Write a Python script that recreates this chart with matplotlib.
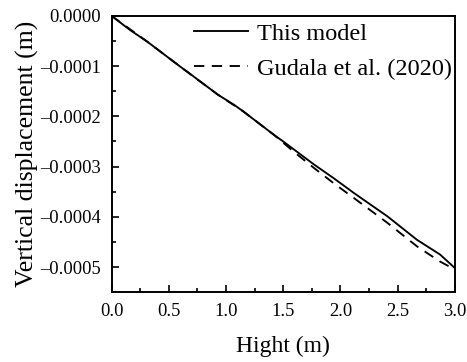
import numpy as np
import matplotlib
matplotlib.use("Agg")
import matplotlib.pyplot as plt
from matplotlib.ticker import MultipleLocator, AutoMinorLocator, FuncFormatter

plt.rcParams['font.family'] = ['Liberation Serif', 'DejaVu Serif']

# 数据
x_model = [0, 0.16, 0.31, 0.60, 0.66, 0.93, 1.07, 1.15, 1.42, 1.50, 1.77, 1.94, 2.12, 2.41, 2.67, 2.87, 3.0]
y_model = [0, -0.0000279, -0.000051, -0.000101, -0.000111, -0.000157, -0.000177, -0.000190,
           -0.000237, -0.000250, -0.000296, -0.000323, -0.000353, -0.000399, -0.000446, -0.000475, -0.000502]

x_gudala = [0, 0.31, 0.60, 0.93, 1.15, 1.42, 1.59, 1.77, 1.94, 2.12, 2.41, 2.67, 2.87, 3.0]
y_gudala = [0, -0.000051, -0.000101, -0.000157, -0.000190, -0.000237, -0.000270, -0.000303,
            -0.000333, -0.000363, -0.000412, -0.000459, -0.000489, -0.000505]

labels = ["This model", "Gudala et al. (2020)"]

fig = plt.figure(figsize=(4.67, 3.62), dpi=100)
ax = fig.add_axes([0.239, 0.193, 0.735, 0.763])

ax.plot(x_model, y_model, color="black", lw=1.35, label=labels[0])
ax.plot(x_gudala, y_gudala, color="black", lw=1.35, dashes=(5.5, 4), label=labels[1])

ax.set_xlim(0, 3.0)
ax.set_ylim(-0.00055, 0)
ax.xaxis.set_major_locator(MultipleLocator(0.5))
ax.xaxis.set_minor_locator(AutoMinorLocator(2))
ax.yaxis.set_major_locator(MultipleLocator(0.0001))
ax.yaxis.set_minor_locator(AutoMinorLocator(2))

def yfmt(v, pos):
    if abs(v) < 1e-12:
        return "0.0000"
    return ("%.4f" % v).replace("-", "\u2013")

ax.yaxis.set_major_formatter(FuncFormatter(yfmt))

ax.tick_params(which="both", direction="in", labelsize=13.3, width=1.2, pad=7.5)
ax.tick_params(which="major", length=5)
ax.tick_params(which="minor", length=3)
for s in ax.spines.values():
    s.set_linewidth(1.4)

ax.set_xlabel("Hight (m)", fontsize=17, labelpad=12)
ax.set_ylabel("Vertical displacement (m)", fontsize=18.5, labelpad=1)

ax.legend(loc="upper right", frameon=False, fontsize=17.5, handlelength=2.26,
          handletextpad=0.37, labelspacing=0.55, borderpad=0, borderaxespad=0.1,
          bbox_to_anchor=(1.0, 0.985))

fig.savefig("out.png", dpi=100)
